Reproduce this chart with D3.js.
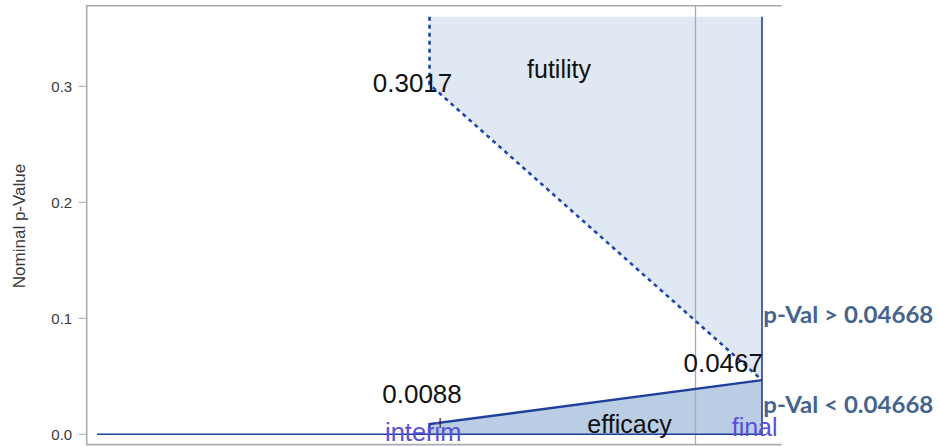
<!DOCTYPE html>
<html>
<head>
<meta charset="utf-8">
<script src="https://cdn.jsdelivr.net/npm/d3@7"></script>
<style>
  html, body { margin: 0; padding: 0; background: #fff; }
  svg { display: block; }
</style>
</head>
<body>
<svg id="chart" width="939" height="446"></svg>
<script>
// Group-sequential design: nominal p-value boundaries at each look
const stages = ["interim", "final"];
const infoFraction = [0.5, 1.0];
const efficacyBound = [0.0088, 0.0467];
const futilityBound = [0.3017, 0.0467];
const boundLabels = ["0.0088", "0.0467"];
const futilityLabel = "0.3017";
const yTicks = [0.0, 0.1, 0.2, 0.3];
const yCeiling = 0.36;          // upper edge of the futility region
const referenceFraction = 0.9;  // grey reference line
const markerFraction = 0.516;   // small marker on the efficacy boundary
const finalDecision = ["p-Val > 0.04668", "p-Val < 0.04668"];

const svg = d3.select("#chart");
const plot = { left: 86.7, top: 5.7, bottom: 444.6, right: 781.7 };

const x = d3.scaleLinear().domain([0, 1]).range([97, 762]);
const y = d3.scaleLinear().domain([-0.0089, 0.3689]).range([444.6, 6.4]);

const blue = "#1f3f9c";
const lightFill = "#dfe8f3";
const darkFill = "#b9cde5";

// futility region (above the futility boundary)
const futPoly = [
  [infoFraction[0], yCeiling],
  [infoFraction[0], futilityBound[0]],
  [infoFraction[1], futilityBound[1]],
  [infoFraction[1], yCeiling]
];
svg.append("path")
  .attr("d", d3.line().x(d => x(d[0])).y(d => y(d[1]))(futPoly) + "Z")
  .attr("fill", lightFill);

// efficacy region (below the efficacy boundary)
const effPoly = [
  [infoFraction[0], 0],
  [infoFraction[0], efficacyBound[0]],
  [infoFraction[1], efficacyBound[1]],
  [infoFraction[1], 0]
];
svg.append("path")
  .attr("d", d3.line().x(d => x(d[0])).y(d => y(d[1]))(effPoly) + "Z")
  .attr("fill", darkFill);

// grey reference line
svg.append("line")
  .attr("x1", x(referenceFraction)).attr("x2", x(referenceFraction))
  .attr("y1", plot.top).attr("y2", plot.bottom)
  .attr("stroke", "#ababab").attr("stroke-width", 1.3);

// frame: top, left, bottom
svg.append("path")
  .attr("d", `M${plot.right},${plot.top}H${plot.left}V${plot.bottom}H${plot.right}`)
  .attr("fill", "none").attr("stroke", "#a8acb0").attr("stroke-width", 1.6);

// y axis
const yAxis = svg.append("g");
yAxis.selectAll("line").data(yTicks).join("line")
  .attr("x1", plot.left - 8).attr("x2", plot.left)
  .attr("y1", d => y(d)).attr("y2", d => y(d))
  .attr("stroke", "#a8acb0").attr("stroke-width", 1);
yAxis.selectAll("text").data(yTicks).join("text")
  .attr("x", plot.left - 14.5).attr("y", d => y(d) + 5.6)
  .attr("text-anchor", "end")
  .attr("font-family", "Liberation Sans, Arial, sans-serif")
  .attr("font-size", 15).attr("fill", "#3a3a3a")
  .text(d => d3.format(".1f")(d));

svg.append("text")
  .attr("transform", `translate(25,226) rotate(-90)`)
  .attr("text-anchor", "middle")
  .attr("font-family", "Liberation Sans, Arial, sans-serif")
  .attr("font-size", 17).attr("fill", "#3a3a3a")
  .text("Nominal p-Value");

// zero line
svg.append("line")
  .attr("x1", x(0)).attr("x2", x(1))
  .attr("y1", y(0)).attr("y2", y(0))
  .attr("stroke", blue).attr("stroke-width", 1.6);

// final analysis line
svg.append("line")
  .attr("x1", x(1)).attr("x2", x(1))
  .attr("y1", y(yCeiling)).attr("y2", y(0))
  .attr("stroke", blue).attr("stroke-width", 1.6);

// efficacy boundary
svg.append("path")
  .attr("d", d3.line().x(d => x(d[0])).y(d => y(d[1]))(effPoly.slice(0, 3)))
  .attr("fill", "none").attr("stroke", blue).attr("stroke-width", 2.4);

// futility boundary (dotted)
svg.append("path")
  .attr("d", d3.line().x(d => x(d[0])).y(d => y(d[1]))(futPoly.slice(0, 3)))
  .attr("fill", "none").attr("stroke", "#2048a8").attr("stroke-width", 2.6)
  .attr("stroke-dasharray", "4,4");

// small marker
svg.append("line")
  .attr("x1", x(markerFraction)).attr("x2", x(markerFraction))
  .attr("y1", y(efficacyBound[0]) - 6).attr("y2", y(efficacyBound[0]) + 4)
  .attr("stroke", "#222").attr("stroke-width", 1.2);

const labelFont = "Liberation Sans, Arial, sans-serif";

// boundary value labels
svg.append("text")
  .attr("x", x(infoFraction[0]) - 17).attr("y", y(futilityBound[0]) + 8)
  .attr("text-anchor", "middle").attr("font-family", labelFont)
  .attr("font-size", 26).attr("fill", "#111").text(futilityLabel);
svg.append("text")
  .attr("x", x(infoFraction[0]) - 7.5).attr("y", y(efficacyBound[0]) - 21.5)
  .attr("text-anchor", "middle").attr("font-family", labelFont)
  .attr("font-size", 26).attr("fill", "#111").text(boundLabels[0]);
svg.append("text")
  .attr("x", x(infoFraction[1]) + 1).attr("y", y(efficacyBound[1]) - 8.5)
  .attr("text-anchor", "end").attr("font-family", labelFont)
  .attr("font-size", 26).attr("fill", "#111").text(boundLabels[1]);

// region labels
svg.append("text")
  .attr("x", 559).attr("y", 78)
  .attr("text-anchor", "middle").attr("font-family", labelFont)
  .attr("font-size", 25).attr("fill", "#111").text("futility");
svg.append("text")
  .attr("x", 629.5).attr("y", 433)
  .attr("text-anchor", "middle").attr("font-family", labelFont)
  .attr("font-size", 25).attr("fill", "#111").text("efficacy");

// stage labels
const stageColor = "#5b4fd9";
svg.append("text")
  .attr("x", x(infoFraction[0]) - 44.5).attr("y", 441)
  .attr("font-family", labelFont).attr("font-size", 25.5)
  .attr("fill", stageColor).text(stages[0]);
svg.append("text")
  .attr("x", x(infoFraction[1]) - 30.3).attr("y", 435.5)
  .attr("font-family", labelFont).attr("font-size", 25)
  .attr("fill", stageColor).text(stages[1]);

// decision rule at the final look
const decisionColor = "#44648e";
svg.append("text")
  .attr("x", x(1) + 1.3).attr("y", 323.3)
  .attr("font-family", "Lato, Open Sans, sans-serif").attr("font-weight", "bold")
  .attr("font-size", 22).attr("fill", decisionColor)
  .attr("textLength", 170).attr("lengthAdjust", "spacingAndGlyphs")
  .text(finalDecision[0]);
svg.append("text")
  .attr("x", x(1) + 1.3).attr("y", 413.3)
  .attr("font-family", "Lato, Open Sans, sans-serif").attr("font-weight", "bold")
  .attr("font-size", 22).attr("fill", decisionColor)
  .attr("textLength", 170).attr("lengthAdjust", "spacingAndGlyphs")
  .text(finalDecision[1]);
</script>
</body>
</html>
